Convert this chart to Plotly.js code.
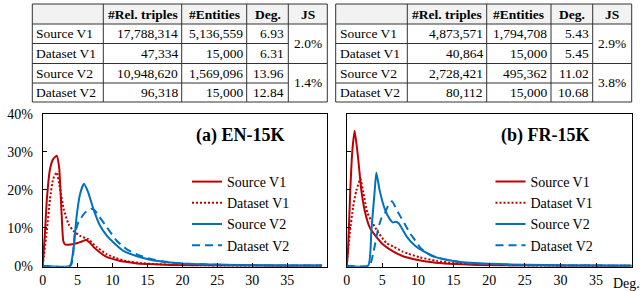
<!DOCTYPE html>
<html>
<head>
<meta charset="utf-8">
<script src="https://cdn.plot.ly/plotly-3.0.1.min.js"></script>
<style>html,body{margin:0;padding:0;background:#fff;}#chart{width:640px;height:291px;}</style>
</head>
<body>
<div id="chart"></div>
<script>
// ---------- DATA ----------
const seriesNames = ["Source V1", "Dataset V1", "Source V2", "Dataset V2"];
const tableHeader = ["", "#Rel. triples", "#Entities", "Deg.", "JS"];

// EN-15K table
const enTriples = ["17,788,314", "47,334", "10,948,620", "96,318"];
const enEntities = ["5,136,559", "15,000", "1,569,096", "15,000"];
const enDeg = ["6.93", "6.31", "13.96", "12.84"];
const enJS = ["2.0%", "1.4%"];
// FR-15K table
const frTriples = ["4,873,571", "40,864", "2,728,421", "80,112"];
const frEntities = ["1,794,708", "15,000", "495,362", "15,000"];
const frDeg = ["5.43", "5.45", "11.02", "10.68"];
const frJS = ["2.9%", "3.8%"];

// EN-15K degree distributions (degree, % of entities)
const enSrcV1X = [0, 0.3, 0.6, 1.05, 1.5, 2.0, 2.35, 2.7, 2.95, 3.2, 4, 5, 5.6, 6.2, 6.8, 7.3, 8.2, 9, 10, 11, 12, 13.5, 15, 17, 20, 25, 30, 35, 40];
const enSrcV1Y = [0, 8, 17.6, 25.5, 28.1, 29, 26, 14, 6.5, 5.6, 5.6, 6.0, 6.4, 6.8, 6.0, 4.9, 3.5, 2.5, 1.8, 1.3, 1.0, 0.6, 0.45, 0.3, 0.15, 0.08, 0.04, 0.02, 0.01];
const enDsV1X = [0, 0.57, 1.05, 1.5, 2.0, 2.5, 3.0, 3.7, 4.4, 5.35, 6.5, 7.7, 9.2, 10.5, 12, 14, 17, 20, 25, 30, 40];
const enDsV1Y = [0, 8.8, 17.6, 22.9, 24.6, 20.2, 15, 11, 9.2, 7.9, 7.0, 5.0, 3.0, 2.0, 1.2, 0.7, 0.35, 0.2, 0.08, 0.04, 0.01];
const enSrcV2X = [0, 3.9, 4.4, 4.87, 5.35, 5.9, 6.5, 7.25, 8.2, 9.2, 10.1, 11.5, 13.5, 15.4, 18, 20, 25, 30, 35, 40];
const enSrcV2Y = [0, 0, 4.4, 13.2, 18.9, 21.6, 19.4, 15, 10.6, 7.9, 6.2, 4.0, 2.5, 1.6, 0.9, 0.6, 0.3, 0.15, 0.08, 0.05];
const enDsV2X = [0, 4.0, 4.6, 5.1, 6.06, 7.0, 7.5, 8.0, 9.2, 10.6, 12, 13.5, 15, 17, 20, 25, 30, 35, 40];
const enDsV2Y = [0, 0, 8.4, 11.4, 14.0, 15, 14.5, 13.2, 10.1, 6.6, 4.4, 3.0, 2.0, 1.2, 0.6, 0.25, 0.12, 0.06, 0.04];

// FR-15K degree distributions
const frSrcV1X = [0, 0.18, 0.5, 0.79, 1.12, 1.59, 2.06, 2.53, 3.23, 4.16, 5.1, 6.5, 7.9, 9.8, 12, 14.5, 17, 20, 25, 30, 40];
const frSrcV1Y = [0, 4, 19.8, 30.3, 35.6, 28.6, 19.8, 14.5, 10.1, 7.6, 5.6, 3.8, 2.5, 1.6, 0.9, 0.5, 0.3, 0.15, 0.06, 0.03, 0.01];
const frDsV1X = [0, 0.42, 0.89, 1.35, 1.92, 2.29, 2.9, 3.7, 4.5, 5.56, 6.6, 7.8, 8.6, 10.3, 12.6, 15, 18, 22, 30, 40];
const frDsV1Y = [0, 8.4, 15.4, 19.8, 22.9, 19.8, 14.0, 11.0, 8.6, 6.0, 5.0, 3.8, 3.2, 2.2, 1.3, 0.7, 0.35, 0.15, 0.05, 0.02];
const frSrcV2X = [0, 3.0, 3.46, 3.93, 4.16, 4.63, 5.34, 6.04, 6.5, 6.9, 7.3, 7.67, 8.5, 9.6, 10.7, 12.6, 14, 16, 18, 20, 25, 30, 35, 40];
const frSrcV2Y = [0, 0, 9.2, 19.8, 24.6, 19.8, 15, 12.3, 11.4, 11.6, 11.2, 10.1, 7.5, 5.3, 3.9, 2.2, 1.6, 1.0, 0.7, 0.5, 0.25, 0.12, 0.06, 0.03];
const frDsV2X = [0, 3.2, 3.7, 4.4, 4.86, 5.34, 5.8, 6.35, 7.2, 8.15, 8.9, 9.3, 10.5, 11.9, 13.5, 15, 17, 20, 25, 30, 40];
const frDsV2Y = [0, 0, 3.1, 9.6, 12.5, 13.8, 15.8, 17.0, 14.1, 11.0, 8.5, 7.5, 4.4, 2.6, 1.8, 1.2, 0.7, 0.4, 0.15, 0.07, 0.02];

const xTicks = [0, 5, 10, 15, 20, 25, 30, 35];
const yTicks = [0, 10, 20, 30, 40];
const yTickText = ["0%", "10%", "20%", "30%", "40%"];
const panelTitles = ["<b>(a) EN-15K</b>", "<b>(b) FR-15K</b>"];
const xUnitLabel = "Deg.";

// ---------- STYLE / LAYOUT ----------
const W = 640, H = 291;
const px = x => x / W;
const py = y => 1 - y / H;
const RED = "#C00000", BLUE = "#0070C0";
const FONT = "Liberation Serif";
const styles = [
  {color: RED, dash: "solid"},
  {color: RED, dash: "2px,2px"},
  {color: BLUE, dash: "solid"},
  {color: BLUE, dash: "8px,5px"}
];

function mk(x, y, i, xa, ya, leg) {
  return {
    type: "scatter", mode: "lines", x: x, y: y, name: seriesNames[i],
    xaxis: xa, yaxis: ya, legend: leg,
    line: {color: styles[i].color, dash: styles[i].dash, width: 2, shape: "spline", smoothing: 0.5},
    hoverinfo: "skip"
  };
}

const traces = [
  mk(enSrcV1X, enSrcV1Y, 0, "x", "y", "legend"),
  mk(enDsV1X, enDsV1Y, 1, "x", "y", "legend"),
  mk(enSrcV2X, enSrcV2Y, 2, "x", "y", "legend"),
  mk(enDsV2X, enDsV2Y, 3, "x", "y", "legend"),
  mk(frSrcV1X, frSrcV1Y, 0, "x2", "y2", "legend2"),
  mk(frDsV1X, frDsV1Y, 1, "x2", "y2", "legend2"),
  mk(frSrcV2X, frSrcV2Y, 2, "x2", "y2", "legend2"),
  mk(frDsV2X, frDsV2Y, 3, "x2", "y2", "legend2")
];

const plotTop = 114, plotBot = 266.7;
const axBase = {
  showline: true, mirror: true, linecolor: "#000", linewidth: 1,
  ticks: "inside", ticklen: 4, tickcolor: "#000", showgrid: false, zeroline: false,
  tickfont: {family: FONT, size: 14, color: "#000"}, fixedrange: true
};
const yDomain = [py(plotBot), py(plotTop)];

const shapes = [];
const annotations = [];

function buildTable(cols, rows, triples, entities, deg, js) {
  shapes.push({type: "rect", xref: "paper", yref: "paper", x0: px(cols[0]), x1: px(cols[5]),
    y0: py(rows[1]), y1: py(rows[0]), fillcolor: "#f2f2f2", line: {width: 0}, layer: "below"});
  for (let r = 0; r < rows.length; r++) {
    const xEnd = (r === 2 || r === 4) ? cols[4] : cols[5];
    shapes.push({type: "line", xref: "paper", yref: "paper", x0: px(cols[0]), x1: px(xEnd),
      y0: py(rows[r]), y1: py(rows[r]), line: {color: "#333", width: 1}});
  }
  for (let c = 0; c < cols.length; c++) {
    shapes.push({type: "line", xref: "paper", yref: "paper", x0: px(cols[c]), x1: px(cols[c]),
      y0: py(rows[0]), y1: py(rows[5]), line: {color: "#333", width: 1}});
  }
  const f = {family: FONT, size: 13.5, color: "#000"};
  const rm = i => py((rows[i] + rows[i + 1]) / 2);
  for (let c = 1; c < tableHeader.length; c++) {
    annotations.push({xref: "paper", yref: "paper", x: px((cols[c] + cols[c + 1]) / 2), y: rm(0),
      text: "<b>" + tableHeader[c] + "</b>", showarrow: false, xanchor: "center", yanchor: "middle", font: f});
  }
  const colsData = [triples, entities, deg];
  for (let r = 0; r < seriesNames.length; r++) {
    annotations.push({xref: "paper", yref: "paper", x: px(cols[0] + 2), y: rm(r + 1),
      text: seriesNames[r], showarrow: false, xanchor: "left", yanchor: "middle", font: f});
    for (let c = 0; c < 3; c++) {
      annotations.push({xref: "paper", yref: "paper", x: px(cols[c + 2] - 2), y: rm(r + 1),
        text: colsData[c][r], showarrow: false, xanchor: "right", yanchor: "middle", font: f});
    }
  }
  for (let g = 0; g < js.length; g++) {
    annotations.push({xref: "paper", yref: "paper", x: px((cols[4] + cols[5]) / 2),
      y: py((rows[1 + 2 * g] + rows[3 + 2 * g]) / 2),
      text: js[g], showarrow: false, xanchor: "center", yanchor: "middle", font: f});
  }
}

const tableRows = [4, 24, 43.5, 63.5, 83, 102];
buildTable([32.3, 103.3, 181.7, 246.7, 288.3, 327.3], tableRows, enTriples, enEntities, enDeg, enJS);
buildTable([335.7, 407.3, 486.7, 551, 592.7, 631.7], tableRows, frTriples, frEntities, frDeg, frJS);

annotations.push({xref: "paper", yref: "paper", x: px(240.5), y: py(135), text: panelTitles[0],
  showarrow: false, xanchor: "center", yanchor: "middle", font: {family: FONT, size: 18, color: "#000"}});
annotations.push({xref: "paper", yref: "paper", x: px(545.5), y: py(135), text: panelTitles[1],
  showarrow: false, xanchor: "center", yanchor: "middle", font: {family: FONT, size: 18, color: "#000"}});
annotations.push({xref: "paper", yref: "paper", x: px(611), y: py(283), text: xUnitLabel,
  showarrow: false, xanchor: "left", yanchor: "middle", font: {family: FONT, size: 14, color: "#000"}});

const legBase = {
  xref: "paper", yref: "paper", xanchor: "left", yanchor: "top",
  bgcolor: "rgba(0,0,0,0)", borderwidth: 0, tracegroupgap: 0,
  font: {family: FONT, size: 14, color: "#000"}, itemwidth: 30
};

const layout = {
  width: W, height: H,
  margin: {l: 0, r: 0, t: 0, b: 0},
  paper_bgcolor: "#fff", plot_bgcolor: "#fff",
  showlegend: true,
  xaxis: Object.assign({}, axBase, {domain: [px(42.7), px(327.3)], range: [0, 40.75], tickvals: xTicks, anchor: "y"}),
  yaxis: Object.assign({}, axBase, {domain: yDomain, range: [-0.25, 40], tickvals: yTicks, ticktext: yTickText, anchor: "x", ticklabelstandoff: 6}),
  xaxis2: Object.assign({}, axBase, {domain: [px(346.7), px(631.7)], range: [0, 40], tickvals: xTicks, anchor: "y2"}),
  yaxis2: Object.assign({}, axBase, {domain: yDomain, range: [-0.25, 40], tickvals: yTicks, showticklabels: false, anchor: "x2"}),
  legend: Object.assign({}, legBase, {x: px(187), y: py(166)}),
  legend2: Object.assign({}, legBase, {x: px(490.5), y: py(166)}),
  shapes: shapes,
  annotations: annotations
};

Plotly.newPlot("chart", traces, layout, {staticPlot: true, displayModeBar: false});
</script>
</body>
</html>
